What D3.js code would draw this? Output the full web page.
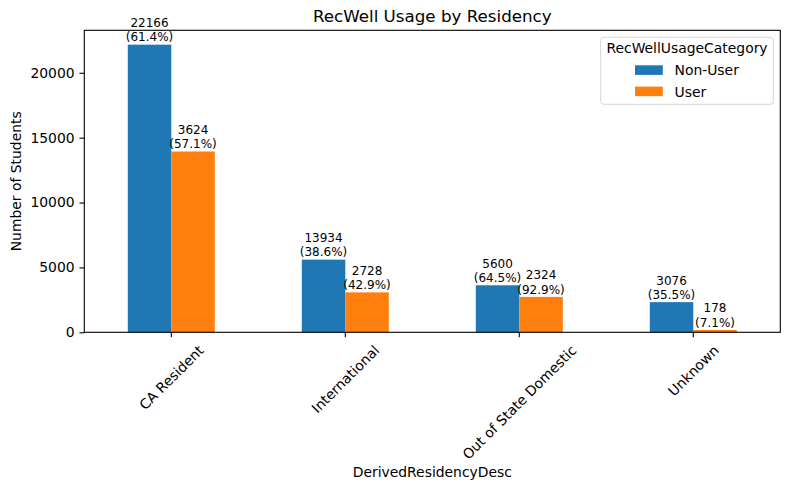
<!DOCTYPE html>
<html>
<head>
<meta charset="utf-8">
<script src="https://cdn.jsdelivr.net/npm/d3@7"></script>
<style>
  html, body { margin: 0; padding: 0; background: #fff; }
  svg text { font-family: "DejaVu Sans", sans-serif; fill: #000; }
</style>
</head>
<body>
<svg id="chart" width="790" height="490"></svg>
<script>
// ---- data ----
const categories = ["CA Resident", "International", "Out of State Domestic", "Unknown"];
const seriesNames = ["Non-User", "User"];
const nonUserValues = [22166, 5600, 3624, 2324];
const userValues = [13934, 3076, 2728, 178];
// annotation texts as they appear on the chart
const nonUserLabelCounts = [22166, 13934, 5600, 3076];
const nonUserLabelPcts = ["61.4%", "38.6%", "64.5%", "35.5%"];
const userLabelCounts = [3624, 2728, 2324, 178];
const userLabelPcts = ["57.1%", "42.9%", "92.9%", "7.1%"];
const yTicks = [0, 5000, 10000, 15000, 20000];
const colors = ["#1f77b4", "#ff7f0e"];

const svg = d3.select("#chart");
const pLeft = 84.3, pRight = 780.3, pTop = 30.3, pBottom = 332.3;

const x0 = d3.scaleBand().domain(categories).range([pLeft, pRight]).paddingInner(0.5).paddingOuter(0.25);
const x1 = d3.scaleBand().domain(seriesNames).range([0, x0.bandwidth()]);
const yMax = d3.max(nonUserValues.concat(userValues)) * 1.05;
const y = d3.scaleLinear().domain([0, yMax]).range([pBottom, pTop]);

const series = [
  { name: "Non-User", values: nonUserValues, counts: nonUserLabelCounts, pcts: nonUserLabelPcts, color: colors[0] },
  { name: "User", values: userValues, counts: userLabelCounts, pcts: userLabelPcts, color: colors[1] }
];

// bars
series.forEach(s => {
  const g = svg.append("g");
  g.selectAll("rect").data(categories).join("rect")
    .attr("x", c => x0(c) + x1(s.name))
    .attr("y", (c, i) => y(s.values[i]))
    .attr("width", x1.bandwidth())
    .attr("height", (c, i) => pBottom - y(s.values[i]))
    .attr("fill", s.color);
  // labels
  const lg = svg.append("g").attr("font-size", "12px").attr("text-anchor", "middle");
  categories.forEach((c, i) => {
    const cx = x0(c) + x1(s.name) + x1.bandwidth() / 2;
    const by = y(s.values[i]) - 3.3;
    lg.append("text").attr("x", cx).attr("y", by - 14.2).text(s.counts[i]);
    lg.append("text").attr("x", cx).attr("y", by).text("(" + s.pcts[i] + ")");
  });
});

// axes
const yAxis = d3.axisLeft(y).tickValues(yTicks).tickSize(4.86).tickPadding(4.86).tickFormat(d3.format("d"));
const gy = svg.append("g").attr("transform", `translate(${pLeft},0)`).call(yAxis);
gy.select(".domain").remove();
gy.selectAll(".tick line").attr("stroke", "#000").attr("stroke-width", 1.1);
gy.selectAll(".tick text").attr("font-size", "13.9px").attr("font-family", "DejaVu Sans").attr("fill", "#000");

const xAxis = d3.axisBottom(x0).tickSize(4.86).tickPadding(0);
const gx = svg.append("g").attr("transform", `translate(0,${pBottom})`).call(xAxis);
gx.select(".domain").remove();
gx.selectAll(".tick line").attr("stroke", "#000").attr("stroke-width", 1.1);
gx.selectAll(".tick text")
  .attr("font-size", "13.9px").attr("font-family", "DejaVu Sans").attr("fill", "#000")
  .attr("text-anchor", "middle").attr("dy", null).attr("y", null)
  .attr("dominant-baseline", "central")
  .each(function () {
    const t = d3.select(this);
    const L = this.getComputedTextLength();
    const h = 13.9 * 1.17;
    const bb = (L + h) * Math.SQRT1_2;
    const topY = 4.86 + 4.86;
    t.attr("transform", `translate(0,${topY + bb / 2}) rotate(-45)`);
  });

// frame
svg.append("rect").attr("x", pLeft).attr("y", pTop).attr("width", pRight - pLeft).attr("height", pBottom - pTop)
  .attr("fill", "none").attr("stroke", "#000").attr("stroke-width", 1.1);

// title & axis labels
svg.append("text").attr("x", (pLeft + pRight) / 2).attr("y", 22).attr("text-anchor", "middle")
  .attr("font-size", "16.7px").text("RecWell Usage by Residency");
svg.append("text").attr("x", (pLeft + pRight) / 2).attr("y", 477).attr("text-anchor", "middle")
  .attr("font-size", "13.9px").text("DerivedResidencyDesc");
svg.append("text").attr("transform", `translate(20.5,${(pTop + pBottom) / 2}) rotate(-90)`)
  .attr("text-anchor", "middle").attr("font-size", "13.9px").text("Number of Students");

// legend
const leg = svg.append("g");
leg.append("rect").attr("x", 600.7).attr("y", 37.3).attr("width", 172.6).attr("height", 67).attr("rx", 3)
  .attr("fill", "#fff").attr("fill-opacity", 0.8).attr("stroke", "#d6d6d6").attr("stroke-width", 1);
leg.append("text").attr("x", 687).attr("y", 53.4).attr("text-anchor", "middle").attr("font-size", "13.9px")
  .text("RecWellUsageCategory");
series.forEach((s, i) => {
  const yy = 75.2 + i * 21.3;
  leg.append("rect").attr("x", 635).attr("y", yy - 9.9).attr("width", 27.8).attr("height", 9.6).attr("fill", s.color);
  leg.append("text").attr("x", 674.5).attr("y", yy).attr("font-size", "13.9px").text(s.name);
});
</script>
</body>
</html>
